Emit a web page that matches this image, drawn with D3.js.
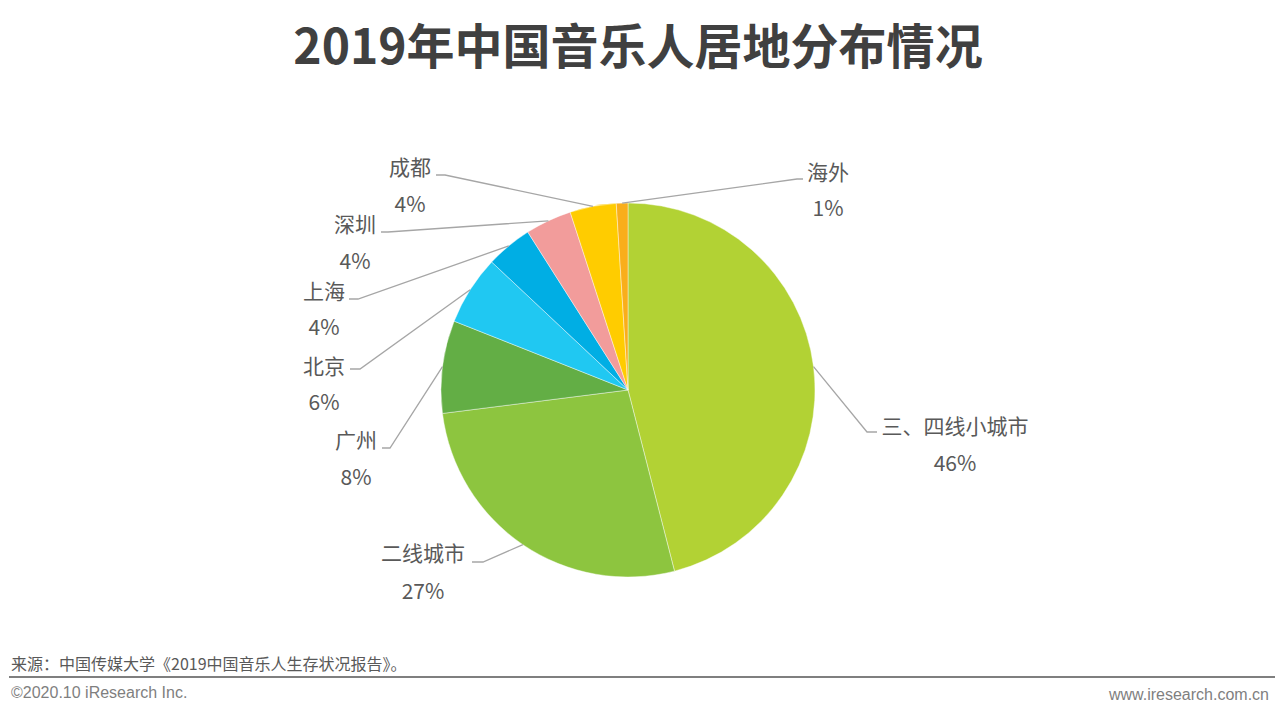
<!DOCTYPE html>
<html>
<head>
<meta charset="utf-8">
<script src="https://cdn.jsdelivr.net/npm/d3@7"></script>
<style>
  html, body { margin: 0; padding: 0; background: #fff; }
  svg { display: block; }
</style>
</head>
<body>
<svg id="chart" width="1280" height="718"></svg>
<script>
// ---- data ----
const categories = ["三、四线小城市", "二线城市", "广州", "北京", "上海", "深圳", "成都", "海外"];
const values = [46, 27, 8, 6, 4, 4, 4, 1];
const percentLabels = ["46%", "27%", "8%", "6%", "4%", "4%", "4%", "1%"];
const colors = ["#B2D234", "#8DC53F", "#63AE45", "#20C8F2", "#00AEE4", "#F29C9B", "#FFCC00", "#F9AE1B"];

// ---- layout (label placement: elbow point, end of leader, text centre x, name y, percent y) ----
const labelLayout = [
  [867, 432, 877, 955, 425, 462],
  [483, 562, 472, 423, 552, 590],
  [390, 448, 382, 356, 439, 476],
  [360, 369, 350, 324, 365, 401],
  [358, 299, 349, 324, 290, 326],
  [388, 232, 381, 355, 223, 260],
  [445, 175, 436, 410, 166, 203],
  [797, 179, 803, 828, 171, 207]
];

const svg = d3.select("#chart");
const cx = 628, cy = 390, R = 187;
const cjk = "'Noto Sans CJK SC', 'Noto Sans', sans-serif";

// title
svg.append("text")
  .attr("x", 638).attr("y", 43)
  .attr("text-anchor", "middle").attr("dominant-baseline", "central")
  .style("font-family", cjk).style("font-weight", "bold")
  .style("font-size", "48px").style("fill", "#404040")
  .text("2019年中国音乐人居地分布情况");

const data = categories.map((c, i) => ({ name: c, value: values[i], pct: percentLabels[i], color: colors[i], layout: labelLayout[i] }));

const pie = d3.pie().value(d => d.value).sort(null);
const arcs = pie(data);
const arc = d3.arc().innerRadius(0).outerRadius(R);

const g = svg.append("g").attr("transform", `translate(${cx},${cy})`);
g.selectAll("path").data(arcs).join("path")
  .attr("d", arc)
  .attr("fill", d => d.data.color)
  .attr("stroke", "#ffffff").attr("stroke-width", 0.6).attr("stroke-opacity", 0.7);

// leader lines
const edge = d3.arc().innerRadius(R).outerRadius(R);
svg.append("g").selectAll("polyline").data(arcs).join("polyline")
  .attr("points", d => {
    const p = edge.centroid(d);
    const L = d.data.layout;
    return [[cx + p[0], cy + p[1]], [L[0], L[1]], [L[2], L[1]]].map(q => q.join(",")).join(" ");
  })
  .attr("fill", "none").attr("stroke", "#A6A6A6").attr("stroke-width", 1.3);

// labels
const lbl = svg.append("g").style("font-family", cjk).style("font-size", "21px").style("fill", "#595959");
arcs.forEach(d => {
  const L = d.data.layout;
  lbl.append("text").attr("x", L[3]).attr("y", L[4])
    .attr("text-anchor", "middle").attr("dominant-baseline", "central").text(d.data.name);
  lbl.append("text").attr("x", L[3]).attr("y", L[5])
    .attr("text-anchor", "middle").attr("dominant-baseline", "central").text(d.data.pct);
});

// footer
svg.append("text").attr("x", 11).attr("y", 663)
  .attr("dominant-baseline", "central")
  .style("font-family", cjk).style("font-size", "16px").style("fill", "#595959")
  .text("来源：中国传媒大学《2019中国音乐人生存状况报告》。");
svg.append("line").attr("x1", 9).attr("x2", 1275).attr("y1", 677).attr("y2", 677)
  .attr("stroke", "#7F7F7F").attr("stroke-width", 2);
svg.append("text").attr("x", 11).attr("y", 692)
  .attr("dominant-baseline", "central")
  .style("font-family", "'Liberation Sans', Arial, sans-serif").style("font-size", "16px").style("fill", "#7F7F7F")
  .text("©2020.10 iResearch Inc.");
svg.append("text").attr("x", 1269).attr("y", 694)
  .attr("text-anchor", "end").attr("dominant-baseline", "central")
  .style("font-family", "'Liberation Sans', Arial, sans-serif").style("font-size", "16px").style("fill", "#7F7F7F")
  .text("www.iresearch.com.cn");
</script>
</body>
</html>
